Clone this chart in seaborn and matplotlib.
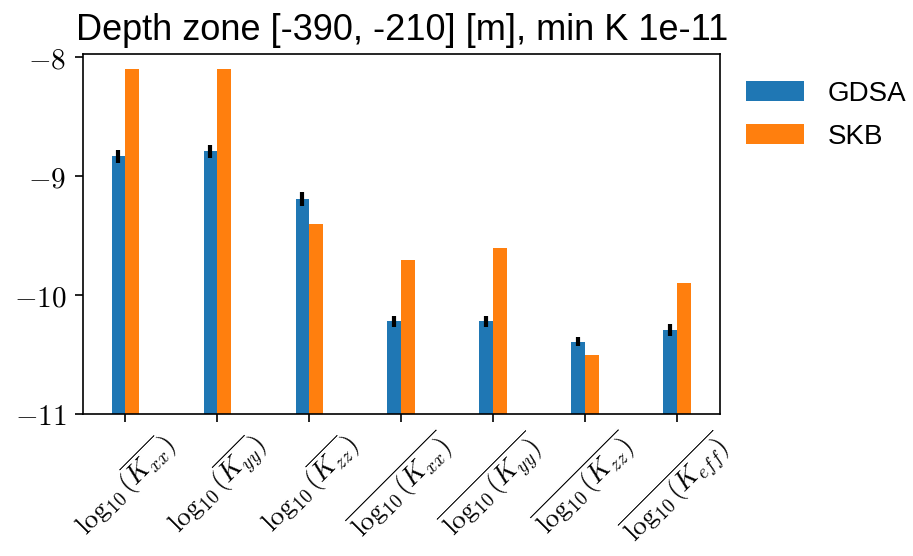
import numpy as np
import pandas as pd
import matplotlib
matplotlib.use("Agg")
import matplotlib.pyplot as plt
from matplotlib.patches import Patch
import seaborn as sns

# Mean log10 permeabilities per quantity, depth zone [-390, -210] m
quantities = [
    r"$\log_{10}(\overline{K_{xx}})$",
    r"$\log_{10}(\overline{K_{yy}})$",
    r"$\log_{10}(\overline{K_{zz}})$",
    r"$\overline{\log_{10}(K_{xx})}$",
    r"$\overline{\log_{10}(K_{yy})}$",
    r"$\overline{\log_{10}(K_{zz})}$",
    r"$\overline{\log_{10}(K_{eff})}$",
]
gdsa = [-8.83, -8.79, -9.19, -10.22, -10.22, -10.39, -10.29]
gdsa_err = [0.055, 0.055, 0.055, 0.05, 0.045, 0.04, 0.05]
skb = [-8.10, -8.10, -9.40, -9.70, -9.60, -10.50, -9.90]
methods = ["GDSA", "SKB"]
colors = ["#1f77b4", "#ff7f0e"]

y_ticks = [-11, -10, -9, -8]
y_tick_labels = [r"$-11$", r"$-10$", r"$-9$", r"$-8$"]
y_floor = -11.0

sns.set_style("ticks")
plt.rcParams["font.family"] = ["Liberation Sans", "DejaVu Sans"]
plt.rcParams["mathtext.fontset"] = "cm"
plt.rcParams["text.color"] = "black"

df = pd.DataFrame({
    "quantity": quantities * 2,
    "method": [methods[0]] * len(quantities) + [methods[1]] * len(quantities),
    "value": gdsa + skb,
})
# bars rise from the floor of the axis up to each value
df["span"] = df["value"] - y_floor

fig = plt.figure(figsize=(9.13, 5.56), dpi=100)
ax = fig.add_axes([0.091, 0.255, 0.698, 0.648])

sns.barplot(
    data=df, x="quantity", y="span", hue="method",
    order=quantities, hue_order=methods,
    palette=colors, saturation=1, width=0.3, gap=0,
    errorbar=None, bottom=y_floor, linewidth=0, legend=False, ax=ax,
)

# GDSA uncertainty
xpos = np.arange(len(quantities)) - 0.075
ax.errorbar(xpos, gdsa, yerr=gdsa_err, fmt="none", ecolor="black",
            elinewidth=3, capsize=0, zorder=5)

ax.set_ylim(-11, -7.97)
ax.set_xlim(-0.46, 6.47)
ax.set_yticks(y_ticks)
ax.set_yticklabels(y_tick_labels, fontsize=21)
ax.set_xticks(range(len(quantities)))
ax.set_xticklabels(quantities, fontsize=19.5, rotation=45, ha="center")
ax.set_xlabel("")
ax.set_ylabel("")
for s in ax.spines.values():
    s.set_visible(True)
    s.set_linewidth(1.2)
    s.set_color("black")
ax.tick_params(axis="both", length=6, width=1.2, pad=6, color="black", labelcolor="black")
ax.tick_params(axis="x", pad=3)

ax.set_title("Depth zone [-390, -210] [m], min K 1e-11", fontsize=26, pad=10, color="black")

handles = [Patch(facecolor=c, edgecolor="none", label=m) for m, c in zip(methods, colors)]
ax.legend(handles=handles, loc="upper left", bbox_to_anchor=(1.009, 0.98), frameon=False,
          fontsize=20, handlelength=2.1, handleheight=0.75,
          labelspacing=0.62, handletextpad=0.85, borderaxespad=0.3, labelcolor="black")

fig.savefig("out.png", dpi=100)
